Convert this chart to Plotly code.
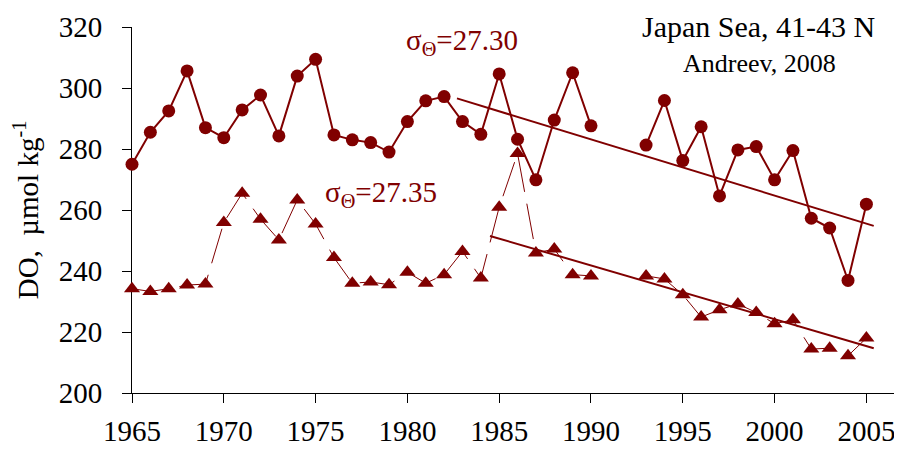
#!/usr/bin/env python3.12

"""Dissolved oxygen at two isopycnals, Japan Sea 41-43 N (after Andreev, 2008)."""

from __future__ import annotations

import plotly.graph_objects as go

DARK_RED = "#800000"
FONT = "Liberation Serif"

years = list(range(1965, 2006))

# sigma-theta = 27.30 (circles); no data in 1991-1992
do_2730 = [275.0, 285.5, 292.5, 305.6, 287.0, 283.7, 292.8, 297.7, 284.3, 303.9,
           309.4, 284.6, 283.0, 282.1, 279.0, 289.0, 295.8, 297.2, 289.0, 284.8,
           304.6, 283.2, 269.9, 289.5, 305.0, 287.6, None, None, 281.3, 295.9,
           276.2, 287.3, 264.6, 279.7, 280.8, 269.9, 279.5, 257.3, 254.1, 236.9,
           261.9]

# sigma-theta = 27.35 (triangles)
do_2735 = [234.2, 233.3, 234.2, 235.4, 235.7, 255.9, 265.5, 257.0, 250.2, 263.3,
           255.4, 244.4, 236.0, 236.4, 235.5, 239.6, 236.0, 238.8, 246.4, 237.7,
           260.9, 278.5, 245.9, 247.2, 238.8, 238.4, None, None, 238.4, 237.4,
           232.2, 224.9, 227.3, 229.2, 226.4, 222.7, 224.0, 214.4, 214.7, 212.2,
           218.0]

# linear trends as drawn on the original figure
trend_2730_years = [1982.7, 2005.4]
trend_2730_values = [296.6, 254.8]
trend_2735_years = [1984.5, 2005.4]
trend_2735_values = [251.5, 214.7]

y_ticks = [200, 220, 240, 260, 280, 300, 320]
x_ticks = [1965, 1970, 1975, 1980, 1985, 1990, 1995, 2000, 2005]

fig = go.Figure()
fig.add_trace(go.Scatter(x=trend_2730_years, y=trend_2730_values, mode="lines",
                         line={"color": DARK_RED, "width": 2}))
fig.add_trace(go.Scatter(x=trend_2735_years, y=trend_2735_values, mode="lines",
                         line={"color": DARK_RED, "width": 2}))
fig.add_trace(go.Scatter(x=years, y=do_2735, mode="lines+markers", cliponaxis=False,
                         line={"color": DARK_RED, "width": 1, "dash": "36px,12px"},
                         marker={"symbol": "triangle-up", "size": 14, "color": DARK_RED}))
fig.add_trace(go.Scatter(x=years, y=do_2730, mode="lines+markers", cliponaxis=False,
                         line={"color": DARK_RED, "width": 2},
                         marker={"symbol": "circle", "size": 13, "color": DARK_RED}))

axis_style = {"showgrid": False, "zeroline": False, "showline": True, "linecolor": "black",
              "linewidth": 1, "ticks": "outside", "ticklen": 9, "tickcolor": "black",
              "tickwidth": 1, "layer": "below traces", "automargin": False,
              "tickfont": {"family": FONT, "size": 29, "color": "black"}}

fig.update_xaxes(range=[1965, 2006.94], tickvals=x_ticks, ticklabelstandoff=3, **axis_style)
fig.update_yaxes(range=[200, 320], tickvals=y_ticks, ticklabelstandoff=14,
                 title={"text": "DO,  \u00b5mol kg<sup>-1</sup>", "standoff": 19,
                        "font": {"family": FONT, "size": 29, "color": "black"}},
                 **axis_style)

# (text, paper x, paper y, vertical anchor, size, colour)
labels = [
    ("Japan Sea, 41-43 N", 0.814, 1.0519, "top", 30, "black"),
    ("Andreev, 2008", 0.815, 0.899, "middle", 26, "black"),
    ("\u03c3<sub>\u0398</sub>=27.30", 0.429, 0.959, "middle", 29, DARK_RED),
    ("\u03c3<sub>\u0398</sub>=27.35", 0.324, 0.543, "middle", 29, DARK_RED),
]
for text, x, y, anchor, size, color in labels:
    fig.add_annotation(text=text, x=x, y=y, xref="paper", yref="paper", showarrow=False,
                       xanchor="center", yanchor=anchor,
                       font={"family": FONT, "size": size, "color": color})

# the page body keeps its default 8px margin, so the figure is 8px smaller each way
fig.update_layout(width=894, height=441, showlegend=False,
                  margin={"l": 124, "r": 0, "t": 19, "b": 56},
                  paper_bgcolor="white", plot_bgcolor="white")

fig.write_html("out.html")
